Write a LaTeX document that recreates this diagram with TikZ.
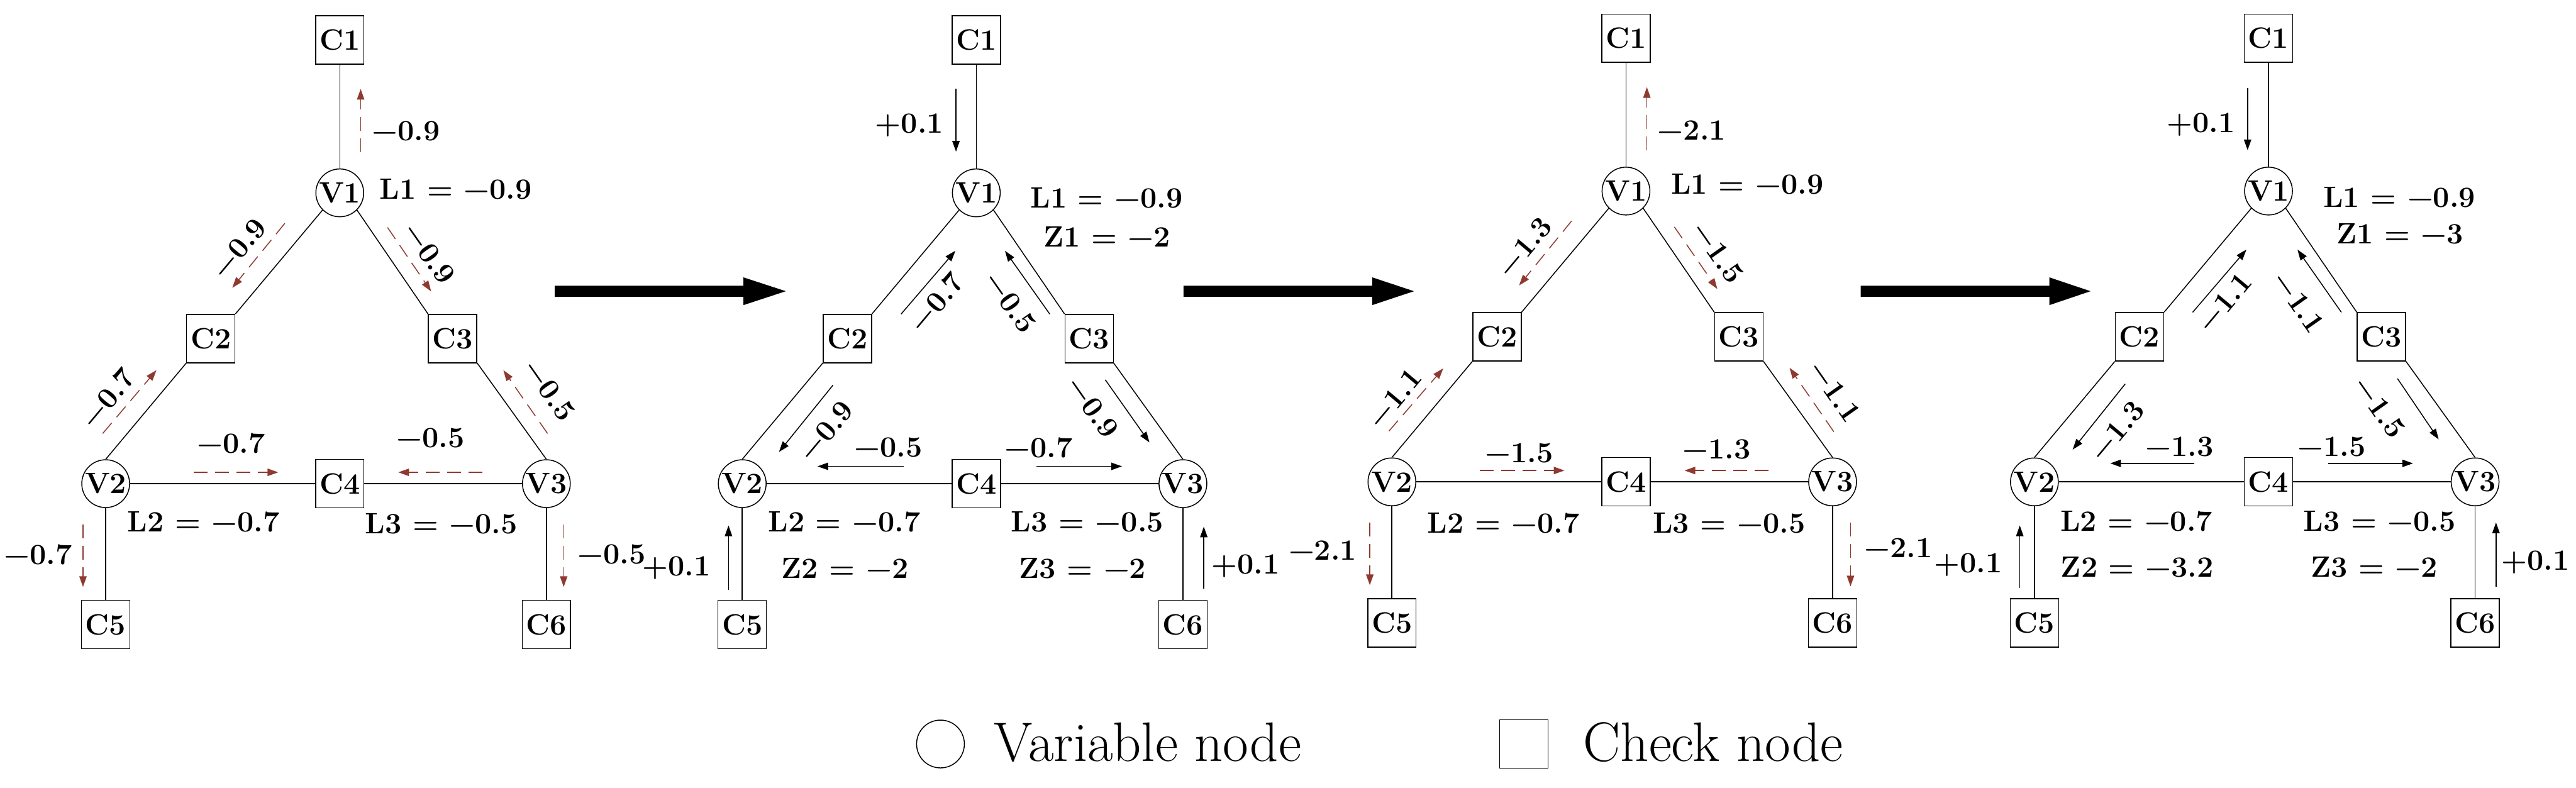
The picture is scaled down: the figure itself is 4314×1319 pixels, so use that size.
\documentclass[tikz,border=0pt]{standalone}
\usepackage{fontspec}
\usetikzlibrary{arrows.meta}
\definecolor{msgred}{RGB}{142,58,48}
\newcommand\labfont{\rmfamily\bfseries\fontsize{14}{17}\selectfont}
\newcommand\nodfont{\rmfamily\bfseries\fontsize{14}{17}\selectfont}
\newcommand\legfont{\rmfamily\fontsize{26.5}{30}\selectfont}
\tikzset{
  vnode/.style={circle, draw, line width=0.45pt, minimum size=0.8cm, inner sep=0pt, font=\nodfont},
  cnode/.style={rectangle, draw, line width=0.45pt, minimum size=0.81cm, inner sep=0pt, font=\nodfont},
  edge/.style={line width=0.45pt},
  redmsg/.style={draw=msgred, line width=0.45pt, dash pattern=on 6.6pt off 3.6pt, -{Triangle[length=5.1pt,width=3.5pt]}},
  blkmsg/.style={draw=black, line width=0.45pt, -{Triangle[length=5.1pt,width=3.5pt]}},
  lab/.style={font=\labfont, inner sep=0pt},
  legtext/.style={font=\legfont, inner sep=0pt, anchor=base west},
  bigarrow/.style={fill=black},
}
% graph of one panel, #1 = prefix
\newcommand\pgraph[1]{%
  \node[cnode] (#1C1) at (0,-256) {C1};
  \node[vnode] (#1V1) at (0,0) {V1};
  \node[cnode] (#1C2) at (-216,244) {C2};
  \node[cnode] (#1C3) at (189,244) {C3};
  \node[vnode] (#1V2) at (-392,487) {V2};
  \node[cnode] (#1C4) at (0,487) {C4};
  \node[vnode] (#1V3) at (346,487) {V3};
  \node[cnode] (#1C5) at (-392,723) {C5};
  \node[cnode] (#1C6) at (346,723) {C6};
  \draw[edge] (#1V1) -- (#1C1);
  \draw[edge] (#1V1.south west) -- (#1C2.north east);
  \draw[edge] (#1C2.south west) -- (#1V2.north);
  \draw[edge] (#1V1.south east) -- (#1C3.north west);
  \draw[edge] (#1C3.south east) -- (#1V3.north);
  \draw[edge] (#1V2) -- (#1C4);
  \draw[edge] (#1C4) -- (#1V3);
  \draw[edge] (#1V2) -- (#1C5);
  \draw[edge] (#1V3) -- (#1C6);
}
% message: name, style, start, end, label pos, rotation, text
\newcommand\msg[7]{%
  \coordinate (#1s) at #3;
  \coordinate (#1e) at #4;
  \draw[#2] (#1s) -- (#1e);
  \node[lab, rotate=#6] (#1l) at #5 {#7};
}
\newcommand\txt[3]{\node[lab] (#1) at #2 {#3};}
\newcommand\txtw[3]{\node[lab, anchor=west] (#1) at #2 {#3};}
\begin{document}
\begin{tikzpicture}[x=0.01cm, y=-0.01cm]
\useasboundingbox (0,0) rectangle (4314,1319);

% ---------------- panel 1 ----------------
\begin{scope}[shift={(569,323)}]
  \pgraph{a}
  \msg{am1}{redmsg}{(35,-68)}{(35,-174)}{(111,-103)}{0}{−0.9}
  \msg{am2}{redmsg}{(-92,51)}{(-180,159)}{(-169,93)}{50}{−0.9}
  \msg{am3}{redmsg}{(80,58)}{(153,165)}{(150,101)}{-55}{−0.9}
  \msg{am4}{redmsg}{(-397,403)}{(-307,297)}{(-389,344)}{50}{−0.7}
  \msg{am5}{redmsg}{(348,403)}{(274,297)}{(351,330)}{-55}{−0.5}
  \msg{am6}{redmsg}{(-245,468)}{(-103,468)}{(-182,419)}{0}{−0.7}
  \msg{am7}{redmsg}{(239,468)}{(98,468)}{(152,410)}{0}{−0.5}
  \msg{am8}{redmsg}{(-430,555)}{(-430,660)}{(-505,606)}{0}{−0.7}
  \msg{am9}{redmsg}{(375,555)}{(375,660)}{(455,605)}{0}{−0.5}
  \txtw{aL1}{(66,-6)}{L1 = −0.9}
  \txt{aL2}{(-228,551)}{L2 = −0.7}
  \txt{aL3}{(170,554)}{L3 = −0.5}
\end{scope}

% ---------------- panel 2 ----------------
\begin{scope}[shift={(1635,323)}]
  \pgraph{b}
  \msg{bm1}{blkmsg}{(-34,-174)}{(-34,-69)}{(-112,-113)}{0}{+0.1}
  \msg{bm2}{blkmsg}{(-126,203)}{(-35,97)}{(-67,183)}{50}{−0.7}
  \msg{bm3}{blkmsg}{(123,203)}{(48,97)}{(57,183)}{-55}{−0.5}
  \msg{bm4}{blkmsg}{(-240,322)}{(-330.5,434)}{(-252,399)}{50}{−0.9}
  \msg{bm5}{blkmsg}{(216,313)}{(290,418)}{(195,359)}{-55}{−0.9}
  \msg{bm6}{blkmsg}{(-121.5,458)}{(-266,458)}{(-147.5,426.5)}{0}{−0.5}
  \msg{bm7}{blkmsg}{(101,458)}{(244,458)}{(104.5,426.5)}{0}{−0.7}
  \msg{bm8}{blkmsg}{(-415,665)}{(-415,557)}{(-502,628)}{0}{+0.1}
  \msg{bm9}{blkmsg}{(381,663)}{(381,559)}{(451,625)}{0}{+0.1}
  \txtw{bL1}{(90,8)}{L1 = −0.9}
  \txtw{bZ1}{(112,73)}{Z1 = −2}
  \txt{bL2}{(-221,551)}{L2 = −0.7}
  \txt{bZ2}{(-220,629)}{Z2 = −2}
  \txt{bL3}{(186,551)}{L3 = −0.5}
  \txt{bZ3}{(178,629)}{Z3 = −2}
\end{scope}

% ---------------- panel 3 ----------------
\begin{scope}[shift={(2723,320)}]
  \pgraph{c}
  \msg{cm1}{redmsg}{(35,-68)}{(35,-174)}{(110,-102)}{0}{−2.1}
  \msg{cm2}{redmsg}{(-91,50)}{(-179,158)}{(-170,94)}{50}{−1.3}
  \msg{cm3}{redmsg}{(81,60)}{(153,164)}{(154,102)}{-55}{−1.5}
  \msg{cm4}{redmsg}{(-397,402)}{(-306,297)}{(-388,347)}{50}{−1.1}
  \msg{cm5}{redmsg}{(348,403)}{(274,296)}{(350,335)}{-55}{−1.1}
  \msg{cm6}{redmsg}{(-245,468)}{(-103,468)}{(-179,439)}{0}{−1.5}
  \msg{cm7}{redmsg}{(239,468)}{(98,468)}{(152,433)}{0}{−1.3}
  \msg{cm8}{redmsg}{(-429,555)}{(-429,660)}{(-508,602)}{0}{−2.1}
  \msg{cm9}{redmsg}{(376,555)}{(376,662)}{(456,598)}{0}{−2.1}
  \txtw{cL1}{(75,-12)}{L1 = −0.9}
  \txt{cL2}{(-205,556)}{L2 = −0.7}
  \txt{cL3}{(172.6,556)}{L3 = −0.5}
\end{scope}

% ---------------- panel 4 ----------------
\begin{scope}[shift={(3799,320)}]
  \pgraph{d}
  \msg{dm1}{blkmsg}{(-35,-173)}{(-35,-68.5)}{(-113,-111)}{0}{+0.1}
  \msg{dm2}{blkmsg}{(-127,203)}{(-37,98)}{(-74,186)}{50}{−1.1}
  \msg{dm3}{blkmsg}{(122,203)}{(48.5,98)}{(51,186)}{-55}{−1.1}
  \msg{dm4}{blkmsg}{(-240,323)}{(-328,433)}{(-254,402)}{50}{−1.3}
  \msg{dm5}{blkmsg}{(216,314)}{(285,416)}{(186,362)}{-55}{−1.5}
  \msg{dm6}{blkmsg}{(-124,456)}{(-265,456)}{(-149,428)}{0}{−1.3}
  \msg{dm7}{blkmsg}{(100,456)}{(242,456)}{(106,428)}{0}{−1.5}
  \msg{dm8}{blkmsg}{(-416.5,665)}{(-416.5,560)}{(-503,626)}{0}{+0.1}
  \msg{dm9}{blkmsg}{(381,663)}{(381,555)}{(447,622)}{0}{+0.1}
  \txtw{dL1}{(91,10)}{L1 = −0.9}
  \txtw{dZ1}{(113,72)}{Z1 = −3}
  \txt{dL2}{(-221,553)}{L2 = −0.7}
  \txt{dZ2}{(-220,630)}{Z2 = −3.2}
  \txt{dL3}{(186,553)}{L3 = −0.5}
  \txt{dZ3}{(177,630)}{Z3 = −2}
\end{scope}

% ---------------- big arrows between panels ----------------
\fill[bigarrow] (929,478.5) -- (1245,478.5) -- (1245,464.5) -- (1316,487.7) -- (1245,511) -- (1245,497) -- (929,497) -- cycle;
\fill[bigarrow] (1982,478.5) -- (2298,478.5) -- (2298,464.5) -- (2368,487.7) -- (2298,511) -- (2298,497) -- (1982,497) -- cycle;
\fill[bigarrow] (3116,478.5) -- (3432,478.5) -- (3432,464.5) -- (3501,487.7) -- (3432,511) -- (3432,497) -- (3116,497) -- cycle;

% ---------------- legend ----------------
\node[vnode] (legV) at (1575,1246) {};
\node[legtext] (legVt) at (1664,1275) {Variable node};
\node[cnode] (legC) at (2552,1246) {};
\node[legtext] (legCt) at (2651,1275) {Check node};
\end{tikzpicture}
\end{document}
